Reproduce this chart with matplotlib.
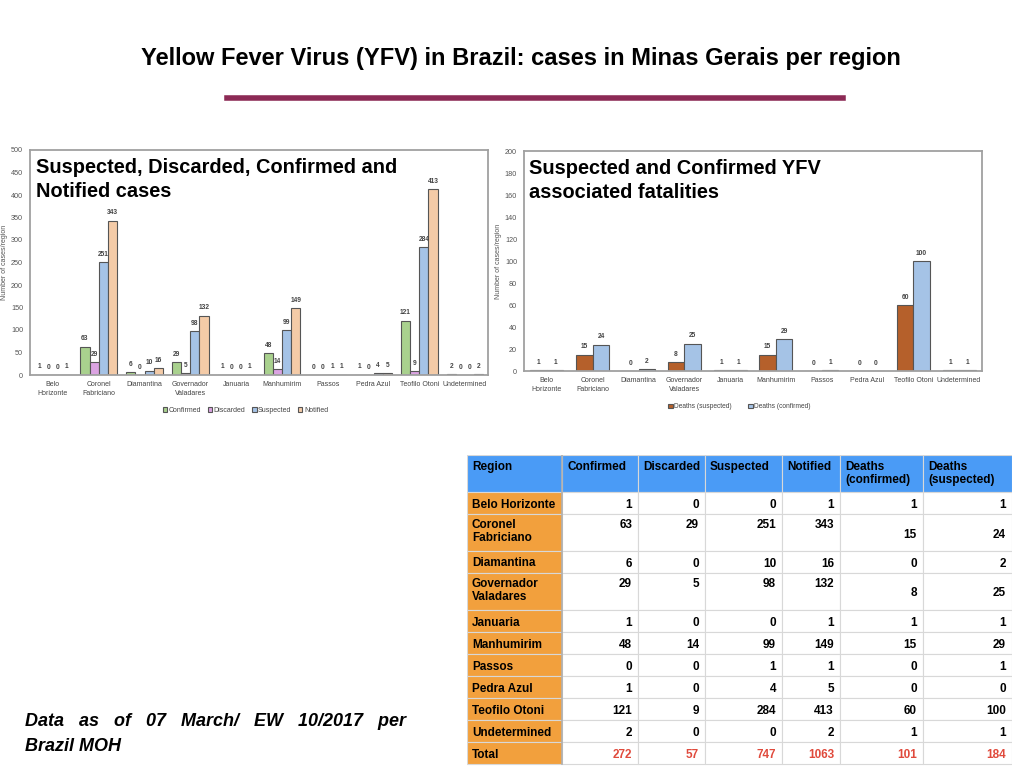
import numpy as np
import matplotlib
matplotlib.use("Agg")
import matplotlib.pyplot as plt
from matplotlib.patches import Rectangle

plt.rcParams['font.family'] = ['Liberation Sans', 'DejaVu Sans']

# data
regions = ["Belo\nHorizonte", "Coronel\nFabriciano", "Diamantina", "Governador\nValadares",
           "Januaria", "Manhumirim", "Passos", "Pedra Azul", "Teofilo Otoni", "Undetermined"]
confirmed = [1, 63, 6, 29, 1, 48, 0, 1, 121, 2]
discarded = [0, 29, 0, 5, 0, 14, 0, 0, 9, 0]
suspected = [0, 251, 10, 98, 0, 99, 1, 4, 284, 0]
notified = [1, 343, 16, 132, 1, 149, 1, 5, 413, 2]
deaths_a = [1, 15, 0, 8, 1, 15, 0, 0, 60, 1]     # orange bars / "Deaths (confirmed)" column
deaths_b = [1, 24, 2, 25, 1, 29, 1, 0, 100, 1]   # blue bars / "Deaths (suspected)" column

table_regions = ["Belo Horizonte", "Coronel\nFabriciano", "Diamantina", "Governador\nValadares",
                 "Januaria", "Manhumirim", "Passos", "Pedra Azul", "Teofilo Otoni", "Undetermined"]
table_header = ["Region", "Confirmed", "Discarded", "Suspected", "Notified",
                "Deaths\n(confirmed)", "Deaths\n(suspected)"]

W, H = 1024, 768
fig = plt.figure(figsize=(10.24, 7.68), dpi=100)
fig.patch.set_facecolor("white")


def fax(x0, y0, x1, y1):
    # pixel box -> figure axes
    return fig.add_axes([x0 / W, 1 - y1 / H, (x1 - x0) / W, (y1 - y0) / H])


# title + rule
fig.text(521 / W, 1 - 58 / H, "Yellow Fever Virus (YFV) in Brazil: cases in Minas Gerais per region",
         ha="center", va="center", fontsize=17, fontweight="bold", color="black")
fig.add_artist(plt.Line2D([227 / W, 843 / W], [1 - 98 / H, 1 - 98 / H], color="#8c2a55", lw=4))

edge = "#555555"
lab_col = "#444444"


def style_axes(ax, ymax, step):
    ax.set_xlim(-0.5, 9.5)
    ax.set_ylim(0, ymax)
    ax.set_yticks(np.arange(0, ymax + 1, step))
    ax.tick_params(axis="y", labelsize=5.2, labelcolor="#555555", length=0, pad=5)
    ax.tick_params(axis="x", labelsize=5, labelcolor="#444444", length=0, pad=4)
    ax.set_xticks(range(len(regions)))
    ax.set_xticklabels(regions, linespacing=1.4)
    for s in ax.spines.values():
        s.set_color("#a0a0a0")
        s.set_linewidth(1.3)
    ax.set_ylabel("Number of cases/region", fontsize=5, color="#555555", labelpad=2)


# left chart
ax1 = fax(30, 150, 488, 375)
x = np.arange(len(regions))
bw = 0.2
series1 = [("Confirmed", confirmed, "#a9d18e"), ("Discarded", discarded, "#dba3e2"),
           ("Suspected", suspected, "#a5c3e6"), ("Notified", notified, "#f4cba7")]
for i, (name, vals, col) in enumerate(series1):
    pos = x + (i - 1.5) * bw
    ax1.bar(pos, vals, width=bw, color=col, edgecolor=edge, linewidth=0.8, label=name)
    for p, v in zip(pos, vals):
        ax1.annotate(str(v), (p, v), xytext=(0, 3), textcoords="offset points",
                     ha="center", va="bottom", fontsize=4.8, fontweight="bold", color=lab_col)
style_axes(ax1, 500, 50)
ax1.text(0.013, 0.965, "Suspected, Discarded, Confirmed and\nNotified cases", transform=ax1.transAxes,
         ha="left", va="top", fontsize=14.4, fontweight="bold", linespacing=1.32)
ax1.legend(loc="upper center", bbox_to_anchor=(0.47, -0.115), ncol=4, frameon=False,
           fontsize=5, handlelength=0.7, handleheight=0.7, handletextpad=0.2, columnspacing=0.9,
           labelcolor="#444444")

# right chart
ax2 = fax(524, 151, 982, 371)
bw2 = 0.36
series2 = [("Deaths (suspected)", deaths_a, "#b5602b"), ("Deaths (confirmed)", deaths_b, "#a5c3e6")]
for i, (name, vals, col) in enumerate(series2):
    pos = x + (i - 0.5) * bw2
    ax2.bar(pos, vals, width=bw2, color=col, edgecolor=edge, linewidth=0.8, label=name)
    for p, v in zip(pos, vals):
        ax2.annotate(str(v), (p, v), xytext=(0, 3), textcoords="offset points",
                     ha="center", va="bottom", fontsize=4.8, fontweight="bold", color=lab_col)
style_axes(ax2, 200, 20)
ax2.text(0.01, 0.965, "Suspected and Confirmed YFV\nassociated fatalities", transform=ax2.transAxes,
         ha="left", va="top", fontsize=14.4, fontweight="bold", linespacing=1.32)
ax2.legend(loc="upper center", bbox_to_anchor=(0.47, -0.12), ncol=2, frameon=False,
           fontsize=4.8, handlelength=0.7, handleheight=0.7, handletextpad=0.2, columnspacing=2.5,
           labelcolor="#444444")

# table
tx0, ty0, tx1, ty1 = 467, 455, 1012, 766
axt = fax(tx0, ty0, tx1, ty1)
axt.set_xlim(0, tx1 - tx0)
axt.set_ylim(ty1 - ty0, 0)
axt.axis("off")
col_edges = [0, 95, 171, 238, 315, 373, 456, 545]
rows = [table_header]
for k, r in enumerate(table_regions):
    rows.append([r, confirmed[k], discarded[k], suspected[k], notified[k], deaths_a[k], deaths_b[k]])
rows.append(["Total", sum(confirmed), sum(discarded), sum(suspected), sum(notified),
             sum(deaths_a), sum(deaths_b)])

fs_t = 8.5
y = 0
for ri, row in enumerate(rows):
    nlines = 2 if "\n" in str(row[0]) or ri == 0 else 1
    h = 37 if nlines == 2 else 22
    for ci in range(7):
        cx0, cx1 = col_edges[ci], col_edges[ci + 1]
        if ri == 0:
            fc = "#4a9bf6"
        elif ci == 0:
            fc = "#f2a03d"
        else:
            fc = "white"
        axt.add_patch(Rectangle((cx0, y), cx1 - cx0, h, facecolor=fc, edgecolor="#d8d8d8", lw=0.8))
        val = row[ci]
        top_off = 6 if ri == 0 else 5
        if ri == 0 or ci == 0:
            if nlines == 2:
                axt.text(cx0 + 5, y + top_off, str(val), ha="left", va="top", fontsize=fs_t,
                         fontweight="bold", color="black", linespacing=1.1)
            else:
                axt.text(cx0 + 5, y + h / 2 + 1.5, str(val), ha="left", va="center", fontsize=fs_t,
                         fontweight="bold", color="black")
        else:
            col = "#e04a3c" if ri == len(rows) - 1 else "black"
            if nlines == 2 and ci <= 4:
                ty, va = y + 5, "top"
            else:
                ty, va = y + h / 2 + 2, "center"
            axt.text(cx1 - 6, ty, str(val), ha="right", va=va, fontsize=fs_t,
                     fontweight="bold", color=col)
    y += h
axt.plot([col_edges[1], col_edges[1]], [0, y], color="#b0b0b0", lw=1.2)

# footnote
fig.text(25 / W, 1 - 734 / H, "Data   as   of   07   March/   EW   10/2017   per\nBrazil MOH",
         ha="left", va="center", fontsize=13, fontweight="bold", fontstyle="italic", linespacing=1.55)

fig.savefig("out.png", dpi=100)
